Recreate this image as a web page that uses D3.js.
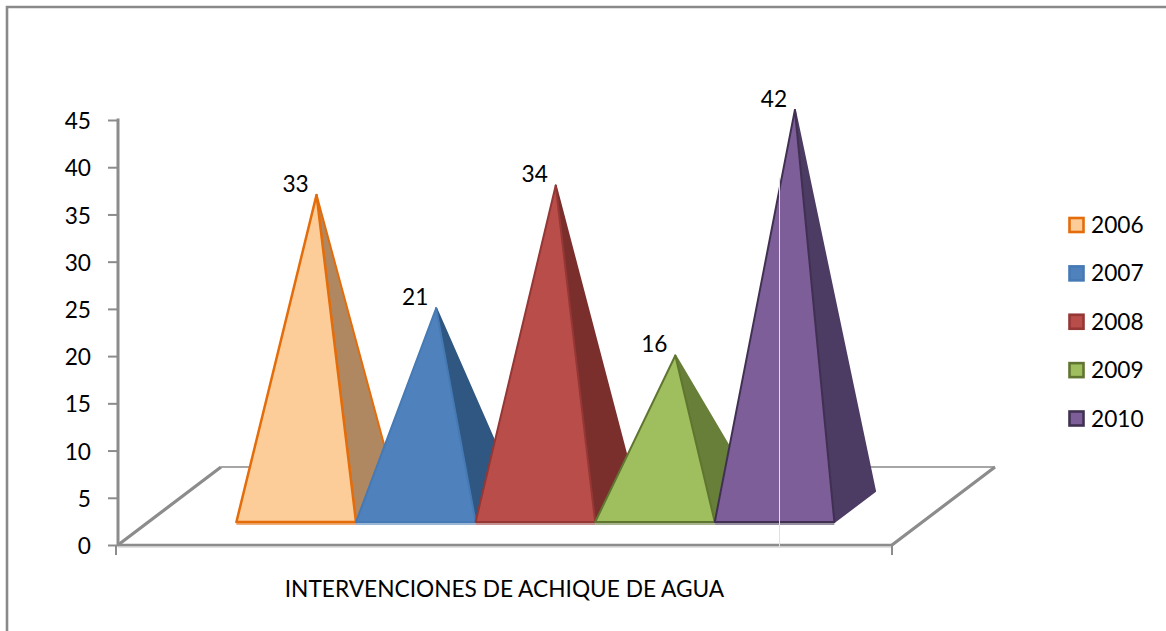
<!DOCTYPE html>
<html><head><meta charset="utf-8">
<script src="https://cdn.jsdelivr.net/npm/d3@7/dist/d3.min.js"></script>
<style>html,body{margin:0;padding:0;background:#fff}svg{display:block}text{font-family:Lato,"Open Sans",sans-serif;fill:#000}</style>
</head><body><div id="c"></div>
<script>
const years = ["2006","2007","2008","2009","2010"];
const values = [33,21,34,16,42];
const fillColors = ["#FDCD99","#4F81BD","#B84D4A","#9FBE5E","#7D5E98"];
const sideColors = ["#AF8862","#2F5781","#7B2F2D","#677F38","#4C3B63"];
const strokeColors = ["#E46C0A","#457AB5","#953735","#5F7530","#403152"];
const yTicks = [0,5,10,15,20,25,30,35,40,45];
const axisTitle = "INTERVENCIONES DE ACHIQUE DE AGUA";

const W=1166,H=631,fs="22.7px";
const svg=d3.select("#c").append("svg").attr("width",W).attr("height",H);
const y=d3.scaleLinear().domain([0,45]).range([545,120]);
const x=d3.scaleBand().domain(years).range([118,892]).paddingInner(0).paddingOuter(0.736);
// depth projection: d in [0,1] of the floor
const depthX=d3.scaleLinear().domain([0,1]).range([0,103]);
const depthY=d3.scaleLinear().domain([0,1]).range([0,-78]);
const dFront=0.295,dBack=0.69,dMid=(dFront+dBack)/2;
const grey="#8C8C8C";

// frame
svg.append("path").attr("d",`M7,${H}V7H${W}`).attr("fill","none").attr("stroke","#8A8A8A").attr("stroke-width",2.6);

// floor
const fl=118,fr=892,fy=y(0);
svg.append("path").attr("d",`M${fl+depthX(1)},${fy+depthY(1)}H${fr+depthX(1)}`)
  .attr("fill","none").attr("stroke","#A6A6A6").attr("stroke-width",2);
svg.append("path").attr("d",`M${fl},${fy}L${fl+depthX(1)},${fy+depthY(1)}M${fr},${fy}L${fr+depthX(1)},${fy+depthY(1)}`)
  .attr("fill","none").attr("stroke",grey).attr("stroke-width",3.2);
svg.append("line").attr("x1",fl).attr("x2",fr).attr("y1",fy+2).attr("y2",fy+2).attr("stroke","#D9D9D9").attr("stroke-width",1.5);
svg.append("line").attr("x1",fl).attr("x2",fr).attr("y1",fy).attr("y2",fy).attr("stroke",grey).attr("stroke-width",2.5);
svg.append("line").attr("x1",fl-2).attr("x2",fl-2).attr("y1",fy).attr("y2",fy+10).attr("stroke",grey).attr("stroke-width",2);
svg.append("line").attr("x1",fr).attr("x2",fr).attr("y1",fy).attr("y2",fy+10).attr("stroke",grey).attr("stroke-width",2);

// y axis
const ax=svg.append("g").attr("transform","translate(118,0)")
  .call(d3.axisLeft(y).tickValues(yTicks).tickSize(10).tickPadding(17));
ax.selectAll("path").attr("stroke",grey).attr("stroke-width",3).attr("d",`M0,${y(45)-1.5}V${y(0)}`);
ax.selectAll("line").attr("stroke",grey).attr("stroke-width",2);
ax.selectAll("text").style("font-size",fs).attr("fill","#000").attr("dy","0.38em");

// pyramids
const g=svg.append("g");
years.forEach((yr,i)=>{
  const x0=x(yr)+depthX(dFront), x1=x0+x.bandwidth();
  const by=y(0)+depthY(dFront);
  const bx1=x1+depthX(dBack-dFront), bby=y(0)+depthY(dBack);
  const ax_=x(yr)+x.bandwidth()/2+depthX(dMid), ay=y(values[i])+depthY(dMid);
  g.append("line").attr("x1",x0).attr("x2",x1).attr("y1",by+2).attr("y2",by+2).attr("stroke",strokeColors[i]).attr("stroke-opacity",0.55).attr("stroke-width",2);
  g.append("path").attr("d",`M${x1},${by}L${bx1},${bby}L${ax_},${ay}Z`)
    .attr("fill",sideColors[i]).attr("stroke",i==0?strokeColors[i]:sideColors[i]).attr("stroke-width",2).attr("stroke-linejoin","round");
  g.append("path").attr("d",`M${x0},${by}H${x1}L${ax_},${ay}Z`)
    .attr("fill",fillColors[i]).attr("stroke",strokeColors[i]).attr("stroke-width",i==0?2.5:2).attr("stroke-linejoin","round");
  svg.append("text").attr("x",ax_-21).attr("y",ay-3).attr("text-anchor","middle")
    .style("font-size",fs).text(values[i]);
});

// thin light seam crossing the last pyramid and the floor
svg.append("line").attr("x1",779.5).attr("x2",779.5).attr("y1",178).attr("y2",548).attr("stroke","#E4DEEA").attr("stroke-width",1);

// axis title
svg.append("text").attr("x",504.5).attr("y",597).attr("text-anchor","middle").style("font-size",fs).text(axisTitle);

// legend
const ly=d3.scalePoint().domain(years).range([225,418.5]);
years.forEach((yr,i)=>{
  svg.append("rect").attr("x",1069.5).attr("y",ly(yr)-7).attr("width",14).attr("height",14)
    .attr("fill",fillColors[i]).attr("stroke",strokeColors[i]).attr("stroke-width",2.6);
  svg.append("text").attr("x",1091).attr("y",ly(yr)+8).style("font-size",fs).text(yr);
});
</script></body></html>
